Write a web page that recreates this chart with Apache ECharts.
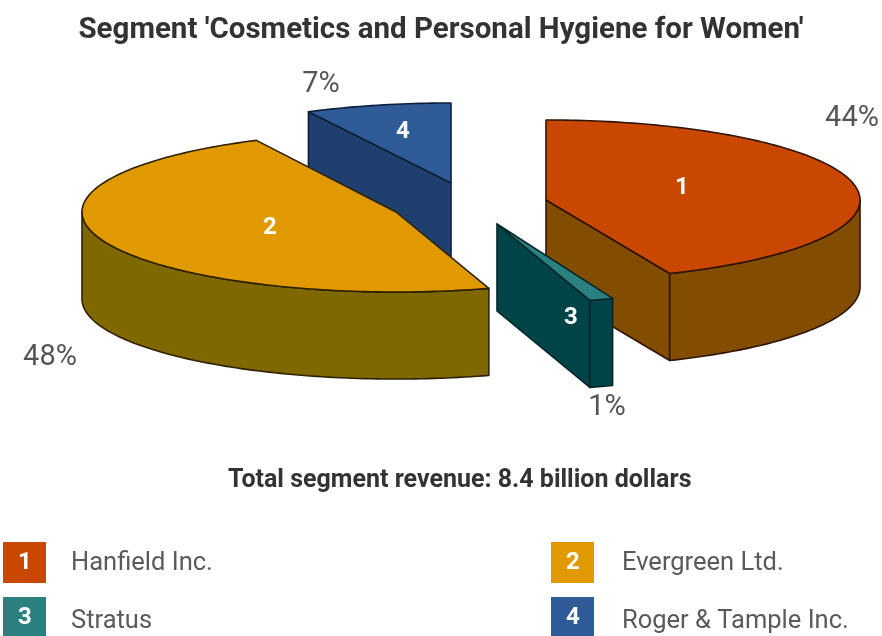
<!DOCTYPE html>
<html>
<head>
<meta charset="utf-8">
<style>html,body{margin:0;padding:0;background:#fff}#c{width:882px;height:636px}</style>
<script src="https://cdn.jsdelivr.net/npm/echarts@6/dist/echarts.min.js"></script>
</head>
<body>
<div id="c"></div>
<script>
// Data
const titleText = "Segment 'Cosmetics and Personal Hygiene for Women'";
const totalText = "Total segment revenue: 8.4 billion dollars";
const companies = ["Hanfield Inc.", "Evergreen Ltd.", "Stratus", "Roger & Tample Inc."];
// clockwise from the top of the pie
const pieOrder = ["Hanfield Inc.", "Stratus", "Evergreen Ltd.", "Roger & Tample Inc."];
const pieValues = [44, 1, 48, 7];
const pieNumbers = ["1", "3", "2", "4"];

// Styles and layout (by pie order)
const topColors = ["#C94700", "#2B8080", "#E09A00", "#2F5C96"];
const wallColors = ["#824D00", "#004448", "#7F6800", "#1F3F6E"];
const edgeColors = ["#2e1400", "#00262a", "#2e2100", "#0c1f3d"];
const apexes = [[546, 200], [497, 224], [396, 212], [451, 183]];
const angleNudge = [[0, -1.6], [0, 0.8], [0.8, -1.2], [-1.8, 0]]; // degrees, drawing perspective of the original
const numberPos = [[682, 188], [571, 318], [270, 228], [403, 132]];
const percentPos = [[852, 119], [607, 408], [50, 358], [321, 85]];
const paintOrder = [3, 4, 2, 1]; // z by pie order
const RX = 314, RY = 80, DEPTH = 87;
const legendColors = {"Hanfield Inc.": "#C94700", "Evergreen Ltd.": "#E09A00", "Stratus": "#2B8080", "Roger & Tample Inc.": "#2F5C96"};
const legendCells = [[3, 542, 71, 551], [551, 542, 622, 551], [3, 597, 71, 609], [551, 597, 622, 609]];
const FONT = "Roboto, 'Open Sans', sans-serif";

const total = pieValues.reduce((a, b) => a + b, 0);

function renderSlice(params, api) {
  const i = params.dataIndex;
  const v = api.value(0);
  let before = 0;
  for (let k = 0; k < i; k++) before += pieValues[k];
  const a0 = (before / total * 360 + angleNudge[i][0]) * Math.PI / 180;
  const a1 = ((before + v) / total * 360 + angleNudge[i][1]) * Math.PI / 180;
  const [cx, cy] = apexes[i];
  const pt = (a, dz) => [cx + RX * Math.sin(a), cy - RY * Math.cos(a) + (dz || 0)];
  const arc = (s, e, dz) => {
    const n = Math.max(2, Math.ceil(Math.abs(e - s) / 0.02));
    const out = [];
    for (let k = 0; k <= n; k++) out.push(pt(s + (e - s) * k / n, dz));
    return out;
  };
  const z = paintOrder[i];
  const children = [];
  const poly = (points, fill, zz) => children.push({
    type: 'polygon', z2: zz, shape: {points},
    style: {fill, stroke: edgeColors[i], lineWidth: 1.6, lineJoin: 'round'}
  });
  const base = z * 10;
  // radial walls that face the viewer
  if (Math.sin(a1) > 0.001) {
    poly([[cx, cy], pt(a1), pt(a1, DEPTH), [cx, cy + DEPTH]], wallColors[i], base);
  }
  if (Math.sin(a0) < -0.001) {
    poly([[cx, cy], pt(a0), pt(a0, DEPTH), [cx, cy + DEPTH]], wallColors[i], base);
  }
  // outer wall: lower half of the rim only
  const s = Math.max(a0, Math.PI / 2), e = Math.min(a1, 3 * Math.PI / 2);
  if (e > s) {
    poly(arc(s, e, 0).concat(arc(e, s, DEPTH)), wallColors[i], base + 1);
  }
  // top face
  poly([[cx, cy]].concat(arc(a0, a1, 0)), topColors[i], base + 2);
  // labels
  children.push({
    type: 'text', z2: 100,
    style: {text: pieNumbers[i], x: numberPos[i][0], y: numberPos[i][1], fill: '#fff',
      font: "bold 24px " + FONT, align: 'center', verticalAlign: 'middle'}
  });
  children.push({
    type: 'text', z2: 100,
    style: {text: v + '%', x: percentPos[i][0], y: percentPos[i][1], fill: '#555',
      font: "29px " + FONT, align: 'center', verticalAlign: 'middle'}
  });
  return {type: 'group', children};
}

const legendGraphics = [];
companies.forEach((name, i) => {
  const [bx, by, tx, ty] = legendCells[i];
  legendGraphics.push({type: 'rect', left: bx, top: by, shape: {width: 43, height: 41},
    style: {fill: legendColors[name]}});
  legendGraphics.push({type: 'text', left: bx + 15, top: by + 9,
    style: {text: String(i + 1), fill: '#fff', font: "bold 24px " + FONT}});
  legendGraphics.push({type: 'text', left: tx, top: ty,
    style: {text: name, fill: '#5a5a5a', font: "25.5px " + FONT}});
});

const chart = echarts.init(document.getElementById('c'), null, {renderer: 'canvas'});
chart.setOption({
  animation: false,
  backgroundColor: '#fff',
  title: {text: titleText, left: 'center', top: 11,
    textStyle: {fontFamily: FONT, fontWeight: 'bold', fontSize: 29.5, color: '#333'}},
  series: [{
    type: 'custom', coordinateSystem: 'none', silent: true,
    renderItem: renderSlice,
    data: pieValues.map((v, i) => ({name: pieOrder[i], value: [v]}))
  }],
  graphic: [
    {type: 'text', left: 228, top: 468,
      style: {text: totalText, fill: '#333', font: "bold 25px " + FONT}}
  ].concat(legendGraphics)
});
</script>
</body>
</html>
